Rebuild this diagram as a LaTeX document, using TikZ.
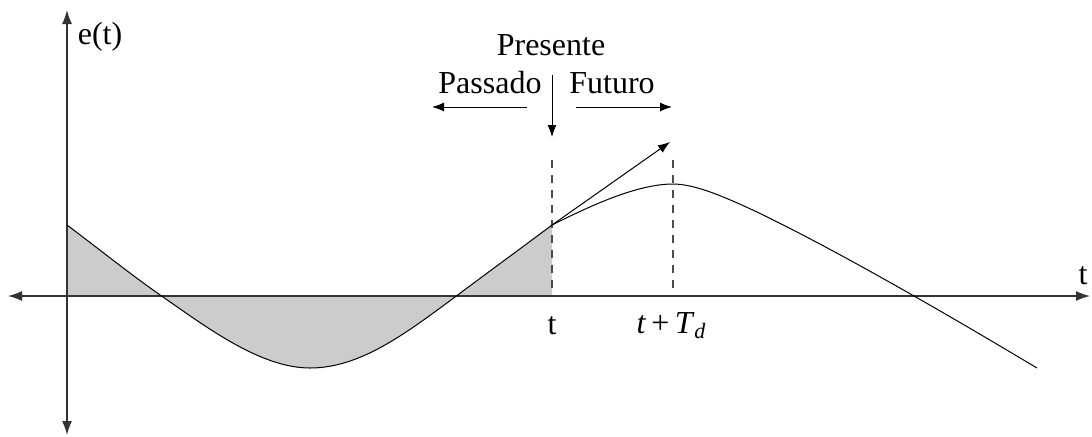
\documentclass[tikz,border=0pt]{standalone}
\usepackage{fontspec}
\setmainfont{Liberation Serif}
\usetikzlibrary{arrows.meta}
\begin{document}
\begin{tikzpicture}[x=0.5pt,y=-0.5pt,
  axis/.style={draw=black!80, line width=0.65pt, {Latex[length=7pt,width=5pt]}-{Latex[length=7pt,width=5pt]}},
  curve/.style={line width=0.5pt},
  guide/.style={draw=black!70, line width=0.6pt, dash pattern=on 4pt off 3.5pt},
  arr/.style={line width=0.5pt, -{Latex[length=6pt,width=4.5pt]}},
  lbl/.style={font=\fontsize{16}{19}\selectfont, inner sep=0pt},
  shade/.style={fill=black!20}]
\useasboundingbox (0,0) rectangle (1092,436);
\def\pastcurve{(67,225) .. controls (99,249) and (130,274) .. (163,297)
  .. controls (205,326) and (260,368) .. (310,368)
  .. controls (360,368) and (405,334) .. (455,297)
  .. controls (487,273) and (520,249) .. (552,225)}
\def\futurecurve{(552,225) .. controls (590,206) and (637,184) .. (673,184)
  .. controls (695,184) and (725,197) .. (757,212)
  .. controls (840,252) and (950,316) .. (1037,368)}
% shaded area
\fill[shade] (67,296) -- \pastcurve -- (552,296) -- cycle;
% coordinates
\coordinate (xl) at (8,296);
\coordinate (xr) at (1090,296);
\coordinate (yt) at (67,10);
\coordinate (yb) at (67,435);
\coordinate (ta) at (552,160);
\coordinate (tb) at (552,296);
\coordinate (ua) at (673,160);
\coordinate (ub) at (673,296);
\coordinate (tp) at (552,225);
\coordinate (tang) at (670,142);
\coordinate (pa) at (552,75);
\coordinate (pb) at (552,137);
\coordinate (la) at (527,107);
\coordinate (lb) at (432,107);
\coordinate (ra) at (576,107);
\coordinate (rb) at (672,107);
% guides
\draw[guide] (ta) -- (tb);
\draw[guide] (ua) -- (ub);
% axes
\draw[axis] (xl) -- (xr);
\draw[axis] (yb) -- (yt);
% curve
\draw[curve] \pastcurve;
\draw[curve] \futurecurve;
% arrows
\draw[arr] (tp) -- (tang);
\draw[arr] (pa) -- (pb);
\draw[arr] (la) -- (lb);
\draw[arr] (ra) -- (rb);
% labels
\node[lbl] (et) at (100,37) {e(t)};
\node[lbl] (tx) at (1083,276) {t};
\node[lbl] (pres) at (551,45) {Presente};
\node[lbl] (pass) at (490,83) {Passado};
\node[lbl] (fut) at (612,83) {Futuro};
\node[lbl] (t1) at (552,326) {t};
\node[lbl, anchor=base] (t2) at (671,333) {\textit{t}\,+\,\textit{T}\raisebox{-0.35ex}{\fontsize{11}{11}\selectfont\textit{d}}};
\end{tikzpicture}
\end{document}
